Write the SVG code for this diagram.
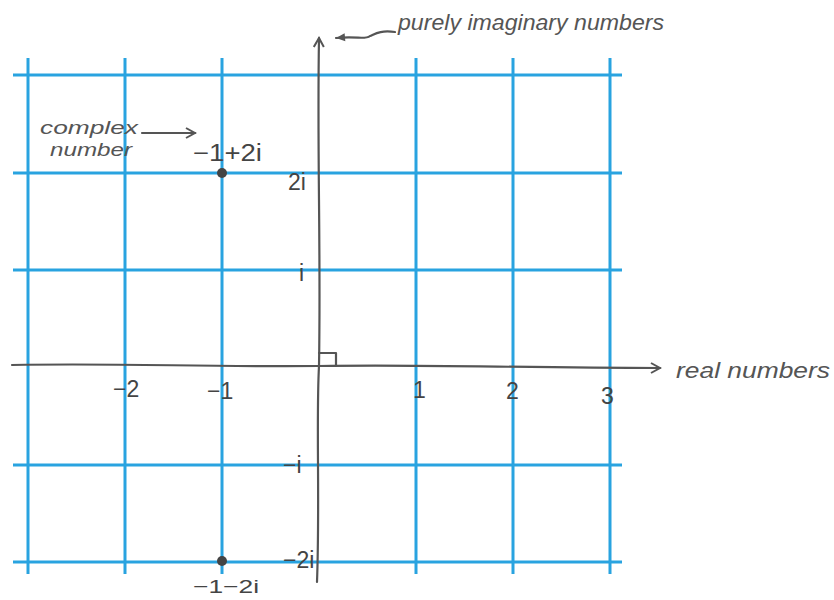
<svg xmlns="http://www.w3.org/2000/svg" width="834" height="600" viewBox="0 0 834 600">
<defs>
<style>
.grid{stroke:#29a3e0;stroke-width:3;fill:none}
.ax{stroke:#555;stroke-width:2.2;fill:none;stroke-linecap:round;stroke-linejoin:round}
.t{font-family:"Liberation Sans",Arial,sans-serif;fill:#444;font-size:23px}
.h{font-family:"Liberation Sans",Arial,sans-serif;fill:#555;font-size:22px;font-style:italic}
.s{font-size:19px}
</style>
<marker id="ah" viewBox="0 0 12 12" refX="10" refY="6" markerWidth="12" markerHeight="12" markerUnits="userSpaceOnUse" orient="auto">
<path d="M1,1 L10,6 L1,11" fill="none" stroke="#555" stroke-width="2"/>
</marker>
<marker id="ahf" viewBox="0 0 12 12" refX="10" refY="6" markerWidth="12" markerHeight="12" markerUnits="userSpaceOnUse" orient="auto">
<path d="M1,2 L10,6 L1,10 Z" fill="#555"/>
</marker>
</defs>
<rect width="834" height="600" fill="#fff"/>
<g id="grid" class="grid">
<path d="M28,58V574M125,58V574M222,58V574M416,58V574M513,58V574M610,58V574"/>
<path d="M13,75H622M13,173H622M13,270H622M13,465H622M13,562H622"/>
</g>
<g id="connectors">
<path class="ax" d="M12,365 C120,363 200,367 319,366 C420,364 520,368 660,368" marker-end="url(#ah)"/>
<path class="ax" d="M317,582 C320,500 316,420 319,366 C321,250 317,150 319,38" marker-end="url(#ah)"/>
<path class="ax" d="M319,353H336V366" stroke-width="1.6"/>
<path class="ax" d="M395,32 C380,30 375,34 370,36 C365,40 358,36 336,38" marker-end="url(#ahf)" stroke-width="1.8"/>
<path class="ax" d="M142,133 H195" marker-end="url(#ah)" stroke-width="1.8"/>
</g>
<g id="points">
<circle cx="222" cy="173" r="5" fill="#444"/>
<circle cx="222" cy="561" r="5" fill="#444"/>
</g>
<g id="labels">
<text class="h" x="398" y="30" textLength="266" lengthAdjust="spacingAndGlyphs">purely imaginary numbers</text>
<text class="h" x="676" y="378" textLength="154" lengthAdjust="spacingAndGlyphs">real numbers</text>
<text class="h s" x="40" y="134" textLength="98" lengthAdjust="spacingAndGlyphs">complex</text>
<text class="h s" x="50" y="156" textLength="82" lengthAdjust="spacingAndGlyphs">number</text>
<text class="t" x="193" y="161" textLength="69" lengthAdjust="spacingAndGlyphs">−1+2i</text>
<text class="t" x="288" y="190">2i</text>
<text class="t" x="299" y="281">i</text>
<text class="t" x="113" y="397">−2</text>
<text class="t" x="207" y="399">−1</text>
<text class="t" x="413" y="398">1</text>
<text class="t" x="506" y="399">2</text>
<text class="t" x="601" y="404">3</text>
<text class="t" x="283" y="473">−i</text>
<text class="t" x="283" y="568">−2i</text>
<text class="t s" x="193" y="593" textLength="66" lengthAdjust="spacingAndGlyphs">−1−2i</text>
</g>
</svg>
